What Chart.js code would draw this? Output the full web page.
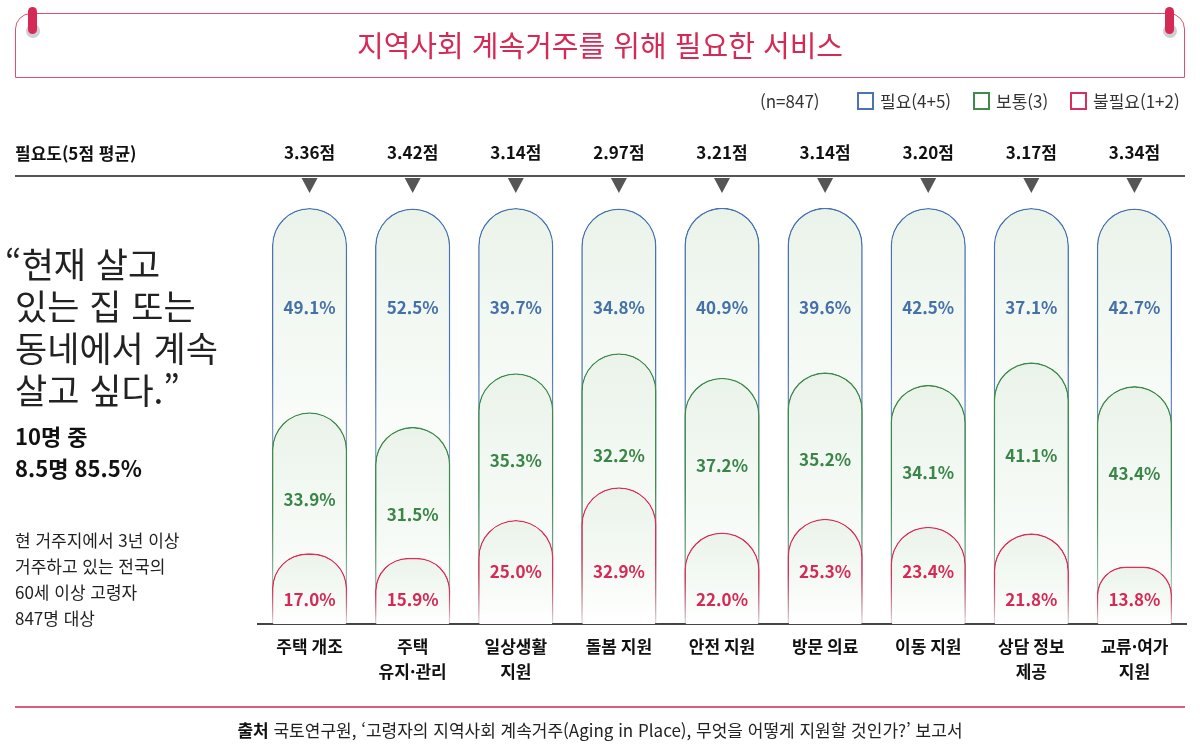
<!DOCTYPE html>
<html lang="ko">
<head>
<meta charset="utf-8">
<script src="https://cdn.jsdelivr.net/npm/chart.js@4.4.1/dist/chart.umd.min.js"></script>
<style>
  html, body { margin:0; padding:0; background:#fff; }
  body { width:1200px; height:750px; position:relative; overflow:hidden;
         font-family:'Noto Sans CJK KR','Noto Sans',sans-serif; color:#222; }
  #c { position:absolute; left:0; top:0; }
  .abs { position:absolute; white-space:nowrap; }
  .titlebox { position:absolute; left:15px; top:13px; width:1168px; height:63px;
              border:1.5px solid #e0506d; border-radius:16px 16px 0 0; }
  .pinshadow { position:absolute; width:14px; height:14px; border-radius:7px; background:#cfcfcf; }
  .pin { position:absolute; width:9px; height:27px; border-radius:5px; background:#d42a55; }
  .title { position:absolute; left:0; top:22px; width:1200px; text-align:center;
           font-size:29px; line-height:44px; color:#d42a55; font-weight:400; }
  .legsq { position:absolute; width:13px; height:14px; border:2.5px solid; top:92px; }
  .legtx { position:absolute; top:89px; font-size:17px; line-height:24px; color:#333; }
</style>
</head>
<body>
<canvas id="c" width="1200" height="750"></canvas>

<div class="titlebox"></div>
<div class="pinshadow" style="left:26px;top:24px"></div>
<div class="pin" style="left:28px;top:7px"></div>
<div class="pinshadow" style="left:1163px;top:24px"></div>
<div class="pin" style="left:1165px;top:7px"></div>
<div class="title">지역사회 계속거주를 위해 필요한 서비스</div>

<div class="legtx" style="left:760px">(n=847)</div>
<div class="legsq" style="left:857px;border-color:#4a74b0"></div>
<div class="legtx" style="left:880px">필요(4+5)</div>
<div class="legsq" style="left:973px;border-color:#3f8a4c"></div>
<div class="legtx" style="left:996px">보통(3)</div>
<div class="legsq" style="left:1070px;border-color:#d8305a"></div>
<div class="legtx" style="left:1093px">불필요(1+2)</div>

<div class="abs" style="left:15px;top:141px;font-size:17px;line-height:24px;font-weight:700;color:#111">필요도(5점 평균)</div>
<div class="abs" style="left:15px;top:175px;width:1170px;height:2px;background:#555"></div>

<div class="abs" style="left:15px;top:242px;font-size:35px;line-height:42px;color:#222;text-indent:-10px;white-space:normal;width:245px">“현재 살고<br>있는 집 또는<br>동네에서 계속<br>살고 싶다.”</div>
<div class="abs" style="left:15px;top:419px;font-size:22px;line-height:32px;font-weight:700;color:#111">10명 중<br>8.5명 85.5%</div>
<div class="abs" style="left:15px;top:527px;font-size:17px;line-height:26px;color:#222">현 거주지에서 3년 이상<br>거주하고 있는 전국의<br>60세 이상 고령자<br>847명 대상</div>

<div class="abs" style="left:15px;top:706px;width:1170px;height:1.5px;background:#d8607a"></div>
<div class="abs" style="left:0;top:718px;width:1200px;text-align:center;font-size:17px;line-height:24px;color:#222"><b style="color:#111">출처</b> 국토연구원, ‘고령자의 지역사회 계속거주(Aging in Place), 무엇을 어떻게 지원할 것인가?’ 보고서</div>

<script>
// ---- data ----
const categories = [['주택 개조'], ['주택', '유지·관리'], ['일상생활', '지원'], ['돌봄 지원'], ['안전 지원'], ['방문 의료'], ['이동 지원'], ['상담 정보', '제공'], ['교류·여가', '지원']];
const needPct = [49.1, 52.5, 39.7, 34.8, 40.9, 39.6, 42.5, 37.1, 42.7];      // 필요(4+5)
const neutralPct = [33.9, 31.5, 35.3, 32.2, 37.2, 35.2, 34.1, 41.1, 43.4];   // 보통(3)
const unneededPct = [17.0, 15.9, 25.0, 32.9, 22.0, 25.3, 23.4, 21.8, 13.8]; // 불필요(1+2)
const avgScore = [3.36, 3.42, 3.14, 2.97, 3.21, 3.14, 3.20, 3.17, 3.34];   // 필요도(5점 평균)
const seriesNames = ['필요(4+5)', '보통(3)', '불필요(1+2)'];

// capsule heights (each capsule rises from the baseline)
const redTop = unneededPct.slice();
const greenTop = unneededPct.map((v, i) => +(v + neutralPct[i]).toFixed(1));
const blueTop = greenTop.map((v, i) => +(v + needPct[i]).toFixed(1));

const FONT = "'Noto Sans CJK KR','Noto Sans',sans-serif";
const COL = { blue: '#4a74b0', green: '#3f8a4c', red: '#d8305a' };
const TXT = { blue: '#4670a8', green: '#3b8548', red: '#d42a55' };

function hexA(hex, a) {
  const n = parseInt(hex.slice(1), 16);
  return `rgba(${n >> 16},${(n >> 8) & 255},${n & 255},${a})`;
}
function fillGrad(ctx, fadeAt) {
  const chart = ctx.chart;
  if (!chart.chartArea || ctx.raw == null) return '#eef5ee';
  const y = chart.scales.y;
  const top = y.getPixelForValue(ctx.raw), bot = y.getPixelForValue(0);
  const g = chart.ctx.createLinearGradient(0, top, 0, bot);
  g.addColorStop(0, '#eaf3ea');
  g.addColorStop(fadeAt, '#f9fcf9');
  g.addColorStop(1, '#ffffff');
  return g;
}
function strokeGrad(ctx, color, fadeFrom) {
  const chart = ctx.chart;
  if (!chart.chartArea || ctx.raw == null) return color;
  const y = chart.scales.y;
  const top = y.getPixelForValue(ctx.raw), bot = y.getPixelForValue(0);
  const g = chart.ctx.createLinearGradient(0, top, 0, bot);
  g.addColorStop(0, color);
  g.addColorStop(fadeFrom, color);
  g.addColorStop(1, hexA(color, 0.08));
  return g;
}

const capsule = { topLeft: 40, topRight: 40, bottomLeft: 0, bottomRight: 0 };

const labelPlugin = {
  id: 'capsuleLabels',
  afterDatasetsDraw(chart) {
    const c = chart.ctx, x = chart.scales.x, y = chart.scales.y;
    c.save();
    c.textAlign = 'center';
    c.textBaseline = 'middle';
    c.font = `700 17px ${FONT}`;
    categories.forEach((_, i) => {
      const px = x.getPixelForValue(i);
      c.fillStyle = TXT.blue;
      c.fillText(needPct[i].toFixed(1) + '%', px, y.getPixelForValue(76));
      c.fillStyle = TXT.green;
      c.fillText(neutralPct[i].toFixed(1) + '%', px, y.getPixelForValue(Math.min(40.5, greenTop[i] - 21)));
      c.fillStyle = TXT.red;
      c.fillText(unneededPct[i].toFixed(1) + '%', px, y.getPixelForValue(unneededPct[i] >= 23 ? 12.5 : 6));
    });
    // header: average scores and pointer triangles
    c.font = `700 17px ${FONT}`;
    avgScore.forEach((v, i) => {
      const px = x.getPixelForValue(i);
      c.fillStyle = '#111';
      c.fillText(v.toFixed(2) + '점', px, 153);
      c.beginPath();
      c.moveTo(px - 8, 178);
      c.lineTo(px + 8, 178);
      c.lineTo(px, 193);
      c.closePath();
      c.fillStyle = '#555';
      c.fill();
    });
    c.restore();
  }
};

new Chart(document.getElementById('c'), {
  type: 'bar',
  data: {
    labels: categories,
    datasets: [
      { label: seriesNames[0], data: blueTop, order: 3, grouped: false,
        backgroundColor: ctx => fillGrad(ctx, 0.5),
        borderColor: ctx => strokeGrad(ctx, COL.blue, 0.35),
        borderWidth: 1.6, borderRadius: capsule, borderSkipped: 'bottom' },
      { label: seriesNames[1], data: greenTop, order: 2, grouped: false,
        backgroundColor: ctx => fillGrad(ctx, 0.7),
        borderColor: ctx => strokeGrad(ctx, COL.green, 0.45),
        borderWidth: 1.6, borderRadius: capsule, borderSkipped: 'bottom' },
      { label: seriesNames[2], data: redTop, order: 1, grouped: false,
        backgroundColor: ctx => fillGrad(ctx, 0.75),
        borderColor: ctx => strokeGrad(ctx, COL.red, 0.5),
        borderWidth: 1.6, borderRadius: capsule, borderSkipped: 'bottom' }
    ]
  },
  options: {
    responsive: false,
    animation: false,
    layout: { padding: { left: 258, right: 14, top: 208, bottom: 56 } },
    categoryPercentage: 1,
    barPercentage: 0.73,
    plugins: { legend: { display: false }, tooltip: { enabled: false } },
    scales: {
      x: {
        grid: { display: false, drawTicks: false },
        border: { display: true, color: '#444', width: 2 },
        ticks: { padding: 10, color: '#111', maxRotation: 0, autoSkip: false,
                 font: { family: FONT, size: 17, weight: '700', lineHeight: 1.47 } }
      },
      y: { display: false, min: 0, max: 100 }
    }
  },
  plugins: [labelPlugin]
});
</script>
</body>
</html>
